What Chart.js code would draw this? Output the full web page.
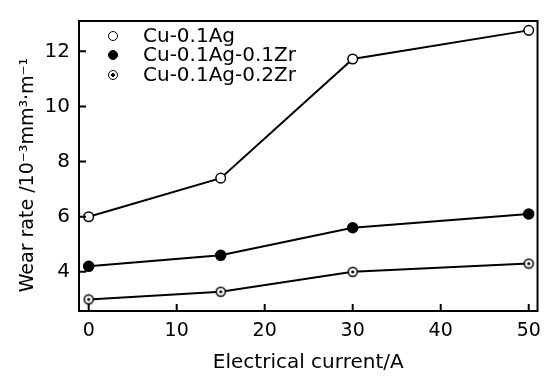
<!DOCTYPE html>
<html>
<head>
<meta charset="utf-8">
<script src="https://cdn.jsdelivr.net/npm/chart.js@4.4.1/dist/chart.umd.min.js"></script>
<style>
  html, body { margin: 0; padding: 0; background: #fff; }
  #wrap { position: relative; width: 550px; height: 376px; }
  .leg { position: absolute; left: 108px; height: 20px; line-height: 20px; font: 20px "DejaVu Sans", sans-serif; color: #000; white-space: nowrap; }
  .leg i { display: inline-block; box-sizing: border-box; width: 10px; height: 10px; border-radius: 50%; border: 1.5px solid #000; background: #fff; vertical-align: middle; margin-right: 25px; position: relative; top: -1px; }
  .leg i.fill { background: #000; }
  .leg i.dot { background: radial-gradient(circle, #000 0 1.6px, #fff 2px); }
</style>
</head>
<body>
<div id="wrap">
  <canvas id="wearChart" width="550" height="376"></canvas>
  <div class="leg" style="top:23px"><i></i>Cu-0.1Ag</div>
  <div class="leg" style="top:42px"><i class="fill"></i>Cu-0.1Ag-0.1Zr</div>
  <div class="leg" style="top:62px"><i class="dot"></i>Cu-0.1Ag-0.2Zr</div>
</div>
<script>
// data
const current = [0, 15, 30, 50];
const wearAg = [6.0, 7.4, 11.72, 12.76];
const wearAgZr01 = [4.2, 4.6, 5.6, 6.1];
const wearAgZr02 = [3.0, 3.28, 4.0, 4.3];
const xTicks = [0, 10, 20, 30, 40, 50];
const yTicks = [4, 6, 8, 10, 12];

const pts = vals => current.map((c, i) => ({ x: c, y: vals[i] }));

// circle with a dot in the middle
const dotMark = document.createElement('canvas');
dotMark.width = 12; dotMark.height = 12;
(() => {
  const c = dotMark.getContext('2d');
  c.fillStyle = '#fff'; c.strokeStyle = '#000'; c.lineWidth = 1.5;
  c.beginPath(); c.arc(6, 6, 4.5, 0, Math.PI * 2); c.fill(); c.stroke();
  c.fillStyle = '#000';
  c.beginPath(); c.arc(6, 6, 1.6, 0, Math.PI * 2); c.fill();
})();

// box frame + inward ticks
const frame = {
  id: 'frame',
  afterDraw(chart) {
    const { ctx, chartArea: a, scales: { x, y } } = chart;
    ctx.save();
    ctx.strokeStyle = '#000';
    ctx.lineWidth = 2;
    ctx.strokeRect(a.left, a.top, a.right - a.left, a.bottom - a.top);
    ctx.beginPath();
    x.ticks.forEach(t => {
      const px = x.getPixelForValue(t.value);
      ctx.moveTo(px, a.bottom); ctx.lineTo(px, a.bottom - 7);
    });
    y.ticks.forEach(t => {
      const py = y.getPixelForValue(t.value);
      ctx.moveTo(a.left, py); ctx.lineTo(a.left + 7, py);
    });
    ctx.stroke();
    ctx.restore();
  }
};

const base = { showLine: true, borderColor: '#000', borderWidth: 2, pointBorderColor: '#000', pointBorderWidth: 1.5, tension: 0 };

new Chart(document.getElementById('wearChart'), {
  type: 'scatter',
  data: {
    datasets: [
      { ...base, label: 'Cu-0.1Ag', data: pts(wearAg), pointStyle: 'circle', pointRadius: 4.8, pointBackgroundColor: '#fff' },
      { ...base, label: 'Cu-0.1Ag-0.1Zr', data: pts(wearAgZr01), pointStyle: 'circle', pointRadius: 5, pointBackgroundColor: '#000' },
      { ...base, label: 'Cu-0.1Ag-0.2Zr', data: pts(wearAgZr02), pointStyle: dotMark }
    ]
  },
  options: {
    responsive: false,
    animation: false,
    layout: { padding: { top: 8, right: 10, left: 0, bottom: 0 } },
    plugins: { legend: { display: false }, tooltip: { enabled: false } },
    scales: {
      x: {
        type: 'linear', min: -1.1, max: 51,
        afterBuildTicks: s => { s.ticks = xTicks.map(v => ({ value: v })); },
        afterFit: s => { s.height = 65; },
        grid: { display: false, drawTicks: false },
        border: { display: false },
        ticks: { color: '#000', padding: 9, maxRotation: 0, font: { family: 'DejaVu Sans', size: 19 } },
        title: { display: true, text: 'Electrical current/A', color: '#000', padding: { top: 0, bottom: 1 }, font: { family: 'DejaVu Sans', size: 20 } }
      },
      y: {
        min: 2.58, max: 13.1,
        afterBuildTicks: s => { s.ticks = yTicks.map(v => ({ value: v })); },
        afterFit: s => { s.width = 79; },
        grid: { display: false, drawTicks: false },
        border: { display: false },
        ticks: { color: '#000', padding: 9, font: { family: 'DejaVu Sans', size: 20 } },
        title: { display: true, text: 'Wear rate /10⁻³mm³·m⁻¹   ', color: '#000', padding: { top: 17, bottom: 0 }, font: { family: 'DejaVu Sans', size: 19 } }
      }
    }
  },
  plugins: [frame]
});
</script>
</body>
</html>
